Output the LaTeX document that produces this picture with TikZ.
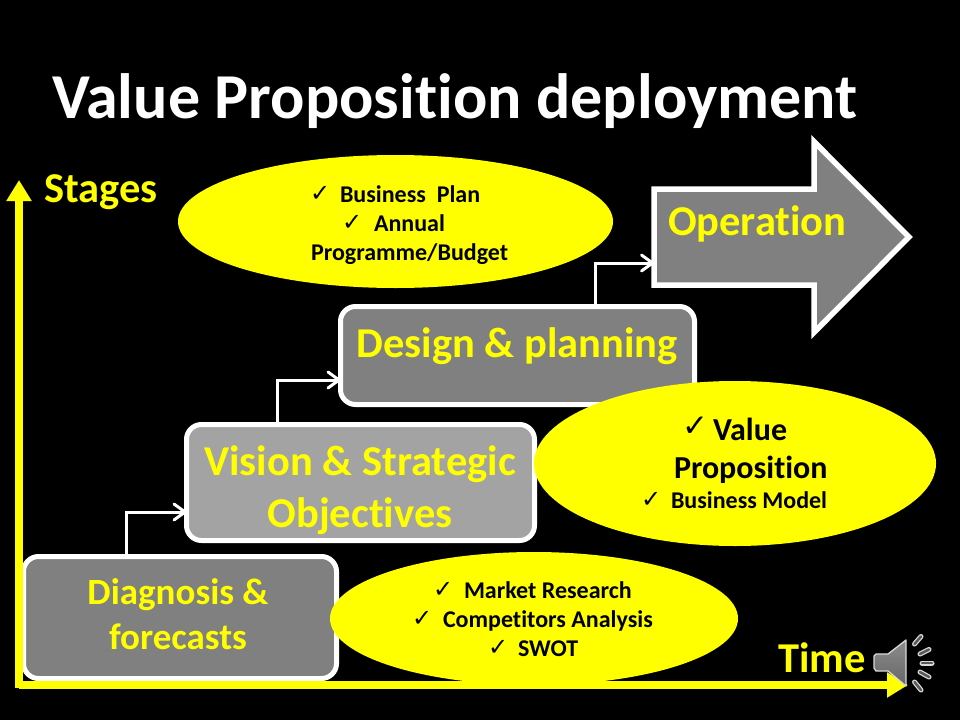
\documentclass[tikz,border=0pt]{standalone}
\usepackage{fontspec}
\setmainfont[Ligatures={NoRequired,NoCommon,NoContextual}]{Carlito}
\newfontfamily\dejavu{DejaVu Sans}
\usetikzlibrary{arrows.meta,shapes.geometric}
\definecolor{yel}{RGB}{255,255,0}
\definecolor{boxgrey}{RGB}{128,128,128}
\definecolor{lightgrey}{RGB}{163,163,163}
\newcommand{\fsz}[1]{\fontsize{#1}{#1}\selectfont\bfseries}
\newcommand{\ck}[1]{\dejavu\fontsize{#1}{#1}\selectfont ✓}
\tikzset{
  stagebox/.style={draw=white,line width=5pt,rounded corners=15pt,fill=boxgrey,outer sep=0pt,inner sep=0pt},
  ell/.style={ellipse,fill=yel,draw=none,inner sep=0pt,outer sep=0pt},
  txt/.style={anchor=base west,inner sep=0pt,outer sep=0pt},
  ctxt/.style={anchor=base,inner sep=0pt,outer sep=0pt},
  link/.style={draw=white,line width=3pt,-{Straight Barb[length=11pt,width=16pt,line width=3pt,round]}},
  axis/.style={draw=yel,line width=7.5pt,-{Triangle[length=21pt,width=24pt]}},
  chk/.style={anchor=base west,inner sep=0pt,outer sep=0pt,text=black},
}
\begin{document}
\begin{tikzpicture}[x=1pt,y=-1pt]
\fill[black] (0,0) rectangle (960,720);
\useasboundingbox (0,0) rectangle (960,720);
% title
\node[txt,text=white] (title) at (52,118.5) {\fsz{64}Value Proposition deployment};
% axes
\coordinate (origin) at (19,688);
\coordinate (ytop) at (19,180);
\coordinate (xstart) at (19,685);
\coordinate (xend) at (908,685);
% boxes
\node[stagebox,fill=boxgrey,minimum width=313pt,minimum height=122pt] (diag) at (180,617.5) {};
\node[stagebox,fill=lightgrey,minimum width=348pt,minimum height=116pt] (vision) at (360.5,482.5) {};
\node[stagebox,minimum width=354pt,minimum height=98pt] (design) at (517.5,355.5) {};
\draw[axis] (origin) -- (ytop);
\draw[axis] (xstart) -- (xend);
% operation arrow
\draw[white,line width=5.5pt,fill=boxgrey,miter limit=10] (654,189) -- (814,189) -- (814,141.6) -- (909,237) -- (814,332.4) -- (814,285) -- (654,285) -- cycle;
\coordinate (oper) at (654,263);
% connectors
\draw[link] (diag.north -| 126,0) |- (vision.west |- 0,512);
\draw[link] (vision.north -| 277,0) |- (design.west |- 0,380);
\draw[link] (design.north -| 595,0) |- (oper);
% ellipses
\node[ell,minimum width=435pt,minimum height=133pt] (e1) at (395.5,221.5) {};
\node[ell,minimum width=402pt,minimum height=165pt] (e2) at (735,463.5) {};
\node[ell,minimum width=408pt,minimum height=133pt] (e3) at (534,618.5) {};
% labels
\node[txt,text=yel] (stages) at (44,202) {\fsz{42.5}Stages};
\node[txt,text=yel] (time) at (778,672) {\fsz{42.5}Time};
\node[txt,text=yel] (operlbl) at (668,235) {\fsz{42.5}Operation};
\node[ctxt,text=yel] (d1) at (178,604) {\fsz{37}Diagnosis \&};
\node[ctxt,text=yel] (d2) at (178,649) {\fsz{37}forecasts};
\node[ctxt,text=yel] (v1) at (360,475) {\fsz{42.5}Vision \& Strategic};
\node[ctxt,text=yel] (v2) at (360,527) {\fsz{42.5}Objectives};
\node[ctxt,text=yel] (des) at (517,357) {\fsz{42.5}Design \& planning};
% ellipse 1
\node[chk] (c1) at (310,201) {\ck{24}};
\node[txt] (t1) at (340,202) {\fsz{24}Business\ \ Plan};
\node[chk] (c2) at (342,230) {\ck{24}};
\node[txt] (t2) at (374,231) {\fsz{24}Annual};
\node[txt] (t3) at (311,260) {\fsz{24}Programme/Budget};
% ellipse 2
\node[chk] (c4) at (682,436) {\ck{31}};
\node[txt] (t4) at (713,440) {\fsz{32}Value};
\node[txt] (t5) at (674,478) {\fsz{32}Proposition};
\node[chk] (c6) at (641,507) {\ck{24}};
\node[txt] (t6) at (671,508) {\fsz{24}Business Model};
% ellipse 3
\node[chk] (c7) at (433,597) {\ck{24}};
\node[txt] (t7) at (464,598) {\fsz{24}Market Research};
\node[chk] (c8) at (412,626) {\ck{24}};
\node[txt] (t8) at (443,627) {\fsz{24}Competitors Analysis};
\node[chk] (c9) at (488,655) {\ck{24}};
\node[txt] (t9) at (518,656) {\fsz{24}SWOT};
% speaker
\draw[draw=white!85!black,line width=1.3pt,line join=round,top color=black!45,bottom color=black!60] (906,640) -- (888,654) -- (876,654) -- (874,656) -- (874,668) -- (876,671) -- (888,671) -- (906,686) -- cycle;
\foreach \xa/\ya/\xb/\yb in {914.5/644/921/636.5, 920/654/929/649.5, 922/663/932/663, 920/672/929/677, 914.5/682/921/690}{
  \draw[white!85!black,line width=5pt,line cap=round] (\xa,\ya) -- (\xb,\yb);
  \draw[black!65,line width=2.5pt,line cap=round] (\xa,\ya) -- (\xb,\yb);
}
\end{tikzpicture}
\end{document}
